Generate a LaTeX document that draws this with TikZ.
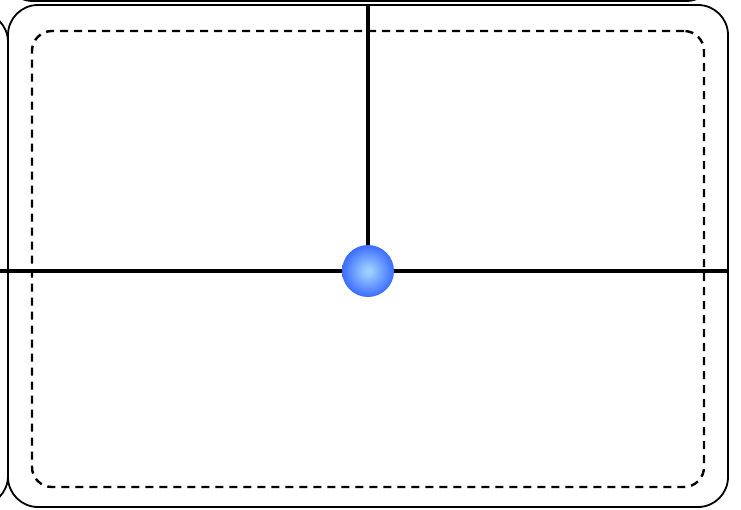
\documentclass[tikz,border=0pt]{standalone}
\usetikzlibrary{positioning}
\definecolor{ballin}{RGB}{155,205,255}
\definecolor{ballout}{RGB}{50,100,255}
\pgfdeclareradialshading{blueball}{\pgfpoint{0bp}{0bp}}{color(0bp)=(ballin); color(3bp)=(ballin); color(27bp)=(ballout); color(50bp)=(ballout)}
\begin{document}
\begin{tikzpicture}[x=1pt, y=-1pt, thick]
    \clip (0,0) rectangle (741,509);
    % Neighbours
    \draw[line width=1.8pt, rounded corners=30pt] (3,-500) rectangle (716,1);
    \draw[line width=1.8pt, rounded corners=30pt] (-700,12) rectangle (8,506);

    % Nodes
    \node[draw, line width=1.8pt, rounded corners=30pt, inner sep=0pt,
          minimum width=720pt, minimum height=502pt] (cell) at (368,256) {};
    \node[draw, line width=2.4pt, dash pattern=on 8pt off 6pt, rounded corners=20pt,
          inner sep=0pt, minimum width=672pt, minimum height=456pt] (area) at (368,259) {};
    \node[circle, shading=blueball, inner sep=0pt, minimum size=52pt] (ball) at (368,271) {};
    \coordinate (west) at (0,271);

    % Edges
    \draw[line width=3.5pt] (west) -- (ball);
    \draw[line width=3.5pt] (ball) -- (cell.east |- ball);
    \draw[line width=3.5pt] (cell.north) -- (ball);
\end{tikzpicture}
\end{document}
